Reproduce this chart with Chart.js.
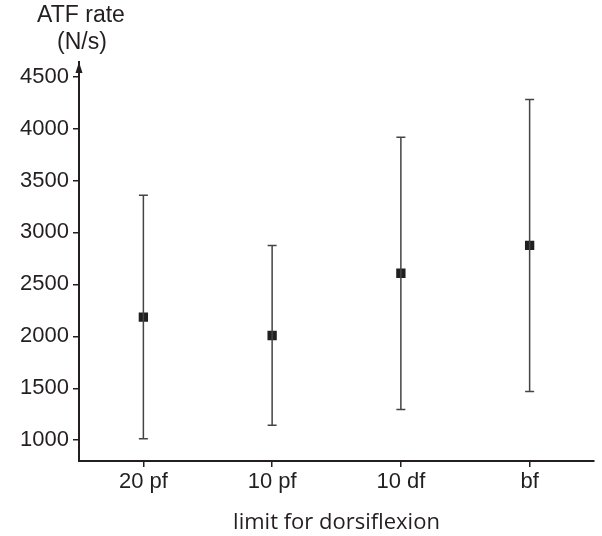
<!DOCTYPE html>
<html>
<head>
<meta charset="utf-8">
<script src="https://cdn.jsdelivr.net/npm/chart.js@4"></script>
<style>
  body { margin: 0; background: #fff; }
  #wrap { width: 602px; height: 536px; }
</style>
</head>
<body>
<div id="wrap"><canvas id="atf"></canvas></div>
<script>
// data
var limits = ['20 pf', '10 pf', '10 df', 'bf'];
var meanRate = [2185, 2008, 2607, 2875];
var upperRate = [3358, 2873, 3915, 4280];
var lowerRate = [1013, 1145, 1296, 1470];
var yTicks = [1000, 1500, 2000, 2500, 3000, 3500, 4000, 4500];

var ink = '#231f20';

// error bars + y title + arrow
var extras = {
  id: 'extras',
  afterDatasetsDraw: function(chart) {
    var ctx = chart.ctx;
    var x = chart.scales.x, y = chart.scales.y;
    ctx.save();
    ctx.strokeStyle = '#444';
    ctx.lineWidth = 1.5;
    for (var i = 0; i < limits.length; i++) {
      var px = x.getPixelForValue(i);
      var top = y.getPixelForValue(upperRate[i]);
      var bot = y.getPixelForValue(lowerRate[i]);
      ctx.beginPath();
      ctx.moveTo(px, top); ctx.lineTo(px, bot);
      ctx.moveTo(px - 4.5, top); ctx.lineTo(px + 4.5, top);
      ctx.moveTo(px - 4.5, bot); ctx.lineTo(px + 4.5, bot);
      ctx.stroke();
    }
    ctx.restore();
  },
  afterDraw: function(chart) {
    var ctx = chart.ctx;
    var a = chart.chartArea;
    ctx.save();
    // arrow head on y axis
    ctx.fillStyle = ink;
    ctx.beginPath();
    ctx.moveTo(a.left, a.top);
    ctx.lineTo(a.left - 3.5, a.top + 11);
    ctx.lineTo(a.left + 3.5, a.top + 11);
    ctx.closePath();
    ctx.fill();
    // y title
    ctx.font = '23px "Liberation Sans", Arial, sans-serif';
    ctx.textAlign = 'center';
    ctx.textBaseline = 'middle';
    ctx.fillText('ATF rate', 81, 16);
    ctx.fillText('(N/s)', 82, 43);
    ctx.restore();
  }
};

new Chart(document.getElementById('atf'), {
  type: 'line',
  data: {
    labels: limits,
    datasets: [{
      data: meanRate,
      showLine: false,
      pointStyle: 'rect',
      pointRadius: 6.6,
      pointBackgroundColor: ink,
      pointBorderColor: ink,
      pointBorderWidth: 0
    }]
  },
  options: {
    responsive: true,
    maintainAspectRatio: false,
    animation: false,
    events: [],
    layout: { padding: { top: 62, right: 8, left: 0, bottom: 0 } },
    plugins: { legend: { display: false }, tooltip: { enabled: false } },
    scales: {
      x: {
        offset: true,
        grid: { display: true, drawOnChartArea: false, offset: false, tickLength: 6, tickColor: ink, lineWidth: 1.5 },
        border: { color: ink, width: 2 },
        ticks: { color: ink, padding: 2, font: { family: '"Liberation Sans", Arial, sans-serif', size: 22 } },
        title: {
          display: true,
          text: 'limit for dorsiflexion',
          color: ink,
          padding: { top: 5, bottom: 0 },
          font: { family: '"Open Sans", sans-serif', size: 22 }
        },
        afterFit: function(s) { s.height = 75; }
      },
      y: {
        min: 800,
        max: 4640,
        grid: { display: true, drawOnChartArea: false, tickLength: 6, tickColor: ink, lineWidth: 1.5 },
        border: { color: ink, width: 2 },
        ticks: {
          color: ink, padding: 4,
          font: { family: '"Liberation Sans", Arial, sans-serif', size: 22 },
          callback: function(v) { return String(v); }
        },
        afterBuildTicks: function(s) {
          s.ticks = yTicks.map(function(v) { return { value: v }; });
        },
        afterFit: function(s) { s.width = 79; }
      }
    }
  },
  plugins: [extras]
});
</script>
</body>
</html>
